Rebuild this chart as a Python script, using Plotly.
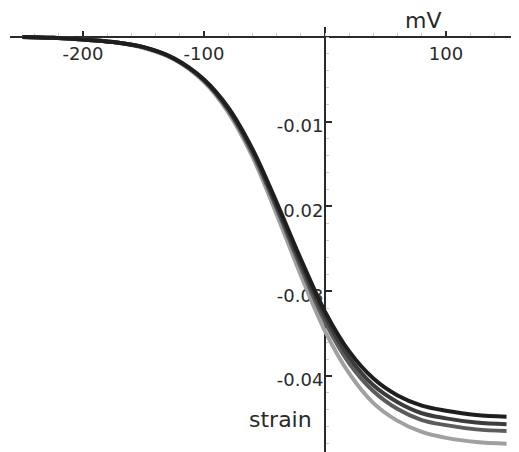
import plotly.graph_objects as go

# ---- data ----
voltage_mV = [-250, -225, -200, -175, -150, -125, -100, -80, -60, -40, -20,
              0, 20, 40, 60, 80, 100, 125, 150]

strain_1 = [0.0, -0.0001, -0.0003, -0.0006, -0.0012, -0.0025, -0.0050, -0.0083,
            -0.0132, -0.0195, -0.0262, -0.0324, -0.0371, -0.0403, -0.0423,
            -0.0435, -0.0441, -0.0446, -0.0448]
strain_2 = [0.0, -0.0001, -0.0003, -0.0006, -0.0012, -0.0025, -0.0051, -0.0085,
            -0.0134, -0.0199, -0.0267, -0.0330, -0.0378, -0.0411, -0.0431,
            -0.0444, -0.0450, -0.0455, -0.0457]
strain_3 = [0.0, -0.0001, -0.0003, -0.0006, -0.0012, -0.0026, -0.0051, -0.0086,
            -0.0137, -0.0202, -0.0272, -0.0336, -0.0385, -0.0418, -0.0439,
            -0.0452, -0.0458, -0.0463, -0.0465]
strain_4 = [0.0, -0.0001, -0.0003, -0.0006, -0.0013, -0.0026, -0.0053, -0.0089,
            -0.0141, -0.0209, -0.0281, -0.0347, -0.0397, -0.0432, -0.0453,
            -0.0466, -0.0473, -0.0478, -0.0480]

x_tickvals = [-200, -100, 100]
x_ticktext = ["-200", "-100", "100"]
y_tickvals = [-0.01, -0.02, -0.03, -0.04]
y_ticktext = ["-0.01", "-0.02", "-0.03", "-0.04"]

x_label = "mV"
y_label = "strain"

# ---- styling ----
series = [strain_4, strain_3, strain_2, strain_1]
colors = ["#a0a0a0", "#5c5c5c", "#3c3c3c", "#1e1e1e"]

x_range = [-260.3, 160.3]
y_range = [-0.04897, 0.00118]

fig = go.Figure()
for s, c in zip(series, colors):
    fig.add_trace(go.Scatter(
        x=voltage_mV, y=s, mode="lines",
        line=dict(color=c, width=4, shape="spline", smoothing=1.0),
        showlegend=False, hoverinfo="skip",
    ))

x_pos = (0 - y_range[0]) / (y_range[1] - y_range[0])
y_pos = (0 - x_range[0]) / (x_range[1] - x_range[0])

font = "DejaVu Sans, Arial, sans-serif"
ink = "#2a2a2a"

fig.update_layout(
    width=511, height=444,
    margin=dict(l=2, r=0, t=19, b=0, pad=0),
    paper_bgcolor="white", plot_bgcolor="white",
    font=dict(family=font, color=ink),
    xaxis=dict(
        range=x_range, anchor="free", position=x_pos, side="bottom",
        showgrid=False, zeroline=False, showline=True,
        linecolor=ink, linewidth=2, layer="below traces",
        ticks="inside", ticklen=5, tickwidth=2, tickcolor=ink,
        tickvals=x_tickvals, ticktext=x_ticktext,
        tickfont=dict(size=18, family=font, color=ink),
        minor=dict(ticks="inside", dtick=20, ticklen=3, tickcolor="#cccccc", tickwidth=1),
        automargin=False, fixedrange=True,
    ),
    yaxis=dict(
        range=y_range, anchor="free", position=y_pos, side="left",
        showgrid=False, zeroline=False, showline=True,
        linecolor=ink, linewidth=2, layer="below traces",
        ticks="inside", ticklen=6, tickwidth=2, tickcolor=ink,
        tickvals=y_tickvals, ticktext=y_ticktext,
        tickfont=dict(size=18, family=font, color=ink),
        ticklabelshift=4, ticklabelstandoff=-3,
        minor=dict(ticks="inside", dtick=0.002, ticklen=3, tickcolor="#cccccc", tickwidth=1),
        automargin=False, fixedrange=True,
    ),
    annotations=[
        dict(text=x_label, x=81, xref="x", y=1.0153, yref="paper",
             xanchor="center", yanchor="middle", showarrow=False,
             font=dict(size=22, family=font, color=ink)),
        dict(text=y_label, x=-9, xref="x", y=-0.0451, yref="y",
             xanchor="right", yanchor="middle", showarrow=False,
             font=dict(size=22, family=font, color=ink)),
    ],
)

fig.write_html("out.html")
